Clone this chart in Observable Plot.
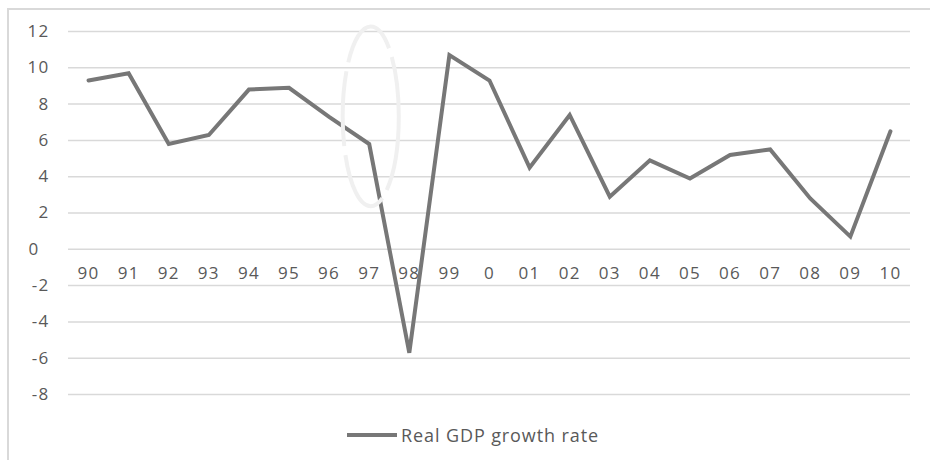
<!DOCTYPE html>
<html>
<head>
<meta charset="utf-8">
<script src="https://cdn.jsdelivr.net/npm/d3@7"></script>
<script src="https://cdn.jsdelivr.net/npm/@observablehq/plot@0.6"></script>
<style>
  html, body { margin: 0; padding: 0; background: #fff; }
  body { width: 930px; height: 460px; position: relative; overflow: hidden; font-family: "Open Sans", sans-serif; }
  #frame { position: absolute; left: 7px; top: 8px; right: 0; bottom: 0;
           border-top: 2px solid #d9d9d9; border-left: 2px solid #d9d9d9; }
  #chart { position: absolute; left: 0; top: 0; }
  #chart text { letter-spacing: 1.3px; }
  #legend { position: absolute; top: 422px; left: 347px; height: 26px;
            display: flex; align-items: center;
            font-size: 18px; letter-spacing: 0.9px; color: #595959; }
  #legend .swatch { width: 50px; height: 4px; background: #777; margin-right: 4px; }
</style>
</head>
<body>
<div id="frame"></div>
<div id="chart"></div>
<div id="legend"><span class="swatch"></span><span>Real GDP growth rate</span></div>
<script>
// Year labels along the category axis
const years = ["90","91","92","93","94","95","96","97","98","99","0",
               "01","02","03","04","05","06","07","08","09","10"];
// Real GDP growth rate (%)
const growth = [9.3, 9.7, 5.8, 6.3, 8.8, 8.9, 7.3, 5.8, -5.7, 10.7, 9.3,
                4.5, 7.4, 2.9, 4.9, 3.9, 5.2, 5.5, 2.8, 0.7, 6.5];
// Value axis ticks
const yTicks = [-8, -6, -4, -2, 0, 2, 4, 6, 8, 10, 12];
// Highlight ellipse around the 1997 crisis (data units)
const highlight = {x: 7.05, y: 7.3, rx: 0.7, ry: 4.95};

const data = years.map((label, i) => ({i, label, value: growth[i]}));

// Render function mark: dashed ellipse placed through the chart's scales
function ellipseMark(index, scales) {
  const cx = scales.x(highlight.x), cy = scales.y(highlight.y);
  const rx = Math.abs(scales.x(highlight.x + highlight.rx) - cx);
  const ry = Math.abs(scales.y(highlight.y + highlight.ry) - cy);
  return d3.create("svg:ellipse")
    .attr("cx", cx).attr("cy", cy).attr("rx", rx).attr("ry", ry)
    .attr("fill", "none").attr("stroke", "#f0f0f0")
    .attr("stroke-width", 4).attr("stroke-dasharray", "75,9")
    .node();
}

const fmt = d => String(d);

const chart = Plot.plot({
  width: 930,
  height: 420,
  marginLeft: 68,
  marginRight: 20,
  marginTop: 31,
  marginBottom: 26,
  style: {fontFamily: "Open Sans, sans-serif", fontSize: "17px", color: "#595959", background: "transparent"},
  x: {type: "linear", domain: [-0.5, years.length - 0.5], axis: null},
  y: {domain: [-8, 12]},
  marks: [
    Plot.ruleY(yTicks, {x1: -0.5, x2: years.length - 0.5, stroke: "#d9d9d9", strokeWidth: 1.5}),
    Plot.axisY({ticks: yTicks.filter(d => d !== 0), tickFormat: fmt, tickSize: 0, tickPadding: 19, label: null, fill: "#595959", fontSize: 17}),
    Plot.axisY({ticks: [0], tickFormat: fmt, tickSize: 0, tickPadding: 29, label: null, fill: "#595959", fontSize: 17}),
    Plot.text(data, {x: "i", y: () => 0, text: "label", dy: 24, fill: "#595959", fontSize: 17}),
    Plot.line(data, {x: "i", y: "value", stroke: "#777777", strokeWidth: 4, strokeLinejoin: "miter", strokeMiterlimit: 4}),
    ellipseMark
  ]
});
document.getElementById("chart").appendChild(chart);
</script>
</body>
</html>
